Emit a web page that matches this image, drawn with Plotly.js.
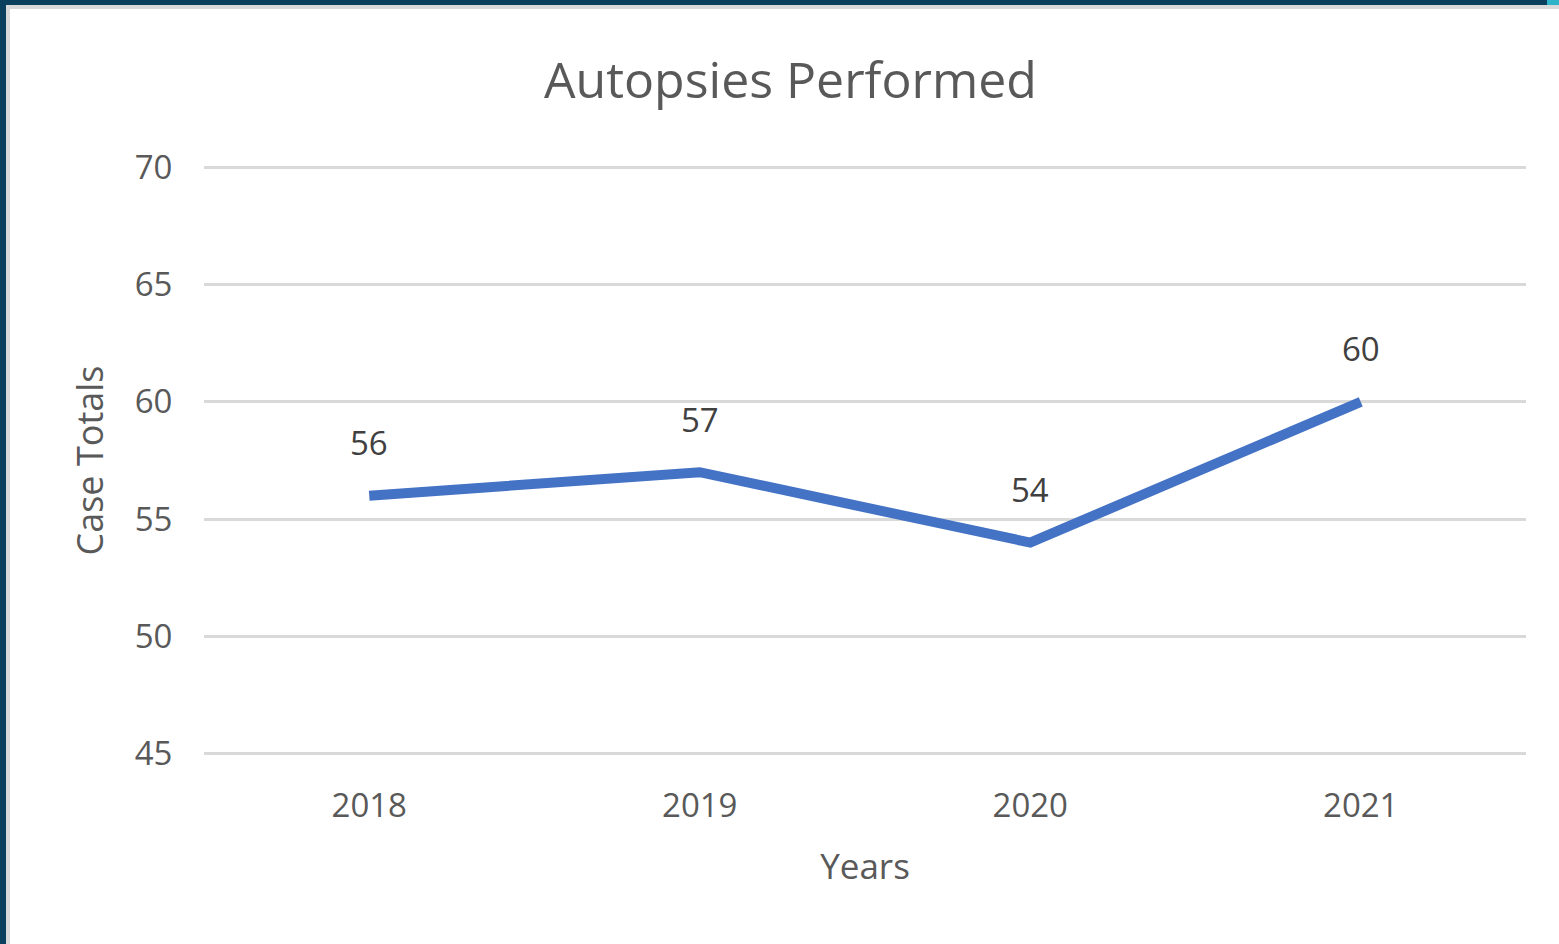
<!DOCTYPE html>
<html>
<head>
<meta charset="utf-8">
<script src="https://cdn.plot.ly/plotly-3.0.1.min.js"></script>
<style>
  html, body { margin: 0; padding: 0; background: #ffffff; width: 1559px; height: 944px; overflow: hidden; }
  #frameNavy { position: absolute; left: 0; top: 0; width: 1559px; height: 944px; box-sizing: border-box;
               border-top: 5px solid #0b3f5e; border-left: 6px solid #0b3f5e; pointer-events: none; }
  #frameGray { position: absolute; left: 6px; top: 5px; width: 1553px; height: 939px; box-sizing: border-box;
               border-top: 4px solid #d9d9d9; border-left: 4px solid #d9d9d9; pointer-events: none; }
  #corner { position: absolute; right: 0; top: 0; width: 12px; height: 5px; background: #2fb3c9; pointer-events: none; }
  #chart { position: absolute; left: 0; top: 0; width: 1559px; height: 944px; }
</style>
</head>
<body>
<div id="chart"></div>
<div id="frameNavy"></div>
<div id="frameGray"></div>
<div id="corner"></div>
<script>
const years = ["2018", "2019", "2020", "2021"];
const caseTotals = [56, 57, 54, 60];
const yTickValues = [45, 50, 55, 60, 65, 70];

const font = "Open Sans, sans-serif";

const trace = {
  type: "scatter",
  mode: "lines",
  x: years,
  y: caseTotals,
  line: { color: "#4472C4", width: 10 },
  hoverinfo: "x+y"
};

const annotations = years.map((yr, i) => ({
  x: i, y: caseTotals[i], xref: "x", yref: "y",
  text: String(caseTotals[i]), showarrow: false,
  xanchor: "center", yanchor: "middle", yshift: 53,
  font: { family: font, size: 33, color: "#404040" }
}));

const layout = {
  width: 1559, height: 944,
  margin: { l: 204, r: 33, t: 165, b: 188 },
  paper_bgcolor: "rgba(0,0,0,0)",
  plot_bgcolor: "rgba(0,0,0,0)",
  showlegend: false,
  title: {
    text: "Autopsies Performed",
    x: 0.507, xanchor: "center", y: 0.915, yanchor: "middle",
    font: { family: font, size: 50, color: "#595959" }
  },
  xaxis: {
    type: "category",
    range: [-0.5, 3.5],
    showgrid: false, zeroline: false, showline: false,
    ticks: "outside", ticklen: 20, tickcolor: "rgba(0,0,0,0)",
    tickfont: { family: font, size: 33, color: "#595959" },
    title: { text: "Years", standoff: 28, font: { family: font, size: 35, color: "#595959" } },
    automargin: false
  },
  yaxis: {
    range: [44.9, 70.1],
    tickvals: yTickValues,
    showgrid: true, gridcolor: "#d9d9d9", gridwidth: 3,
    zeroline: false, showline: false,
    ticks: "outside", ticklen: 24, tickcolor: "rgba(0,0,0,0)",
    tickfont: { family: font, size: 33, color: "#595959" },
    title: { text: "Case Totals", standoff: 20, font: { family: font, size: 36, color: "#595959" } },
    automargin: false
  },
  annotations: annotations
};

Plotly.newPlot("chart", [trace], layout, { displayModeBar: false });
</script>
</body>
</html>
